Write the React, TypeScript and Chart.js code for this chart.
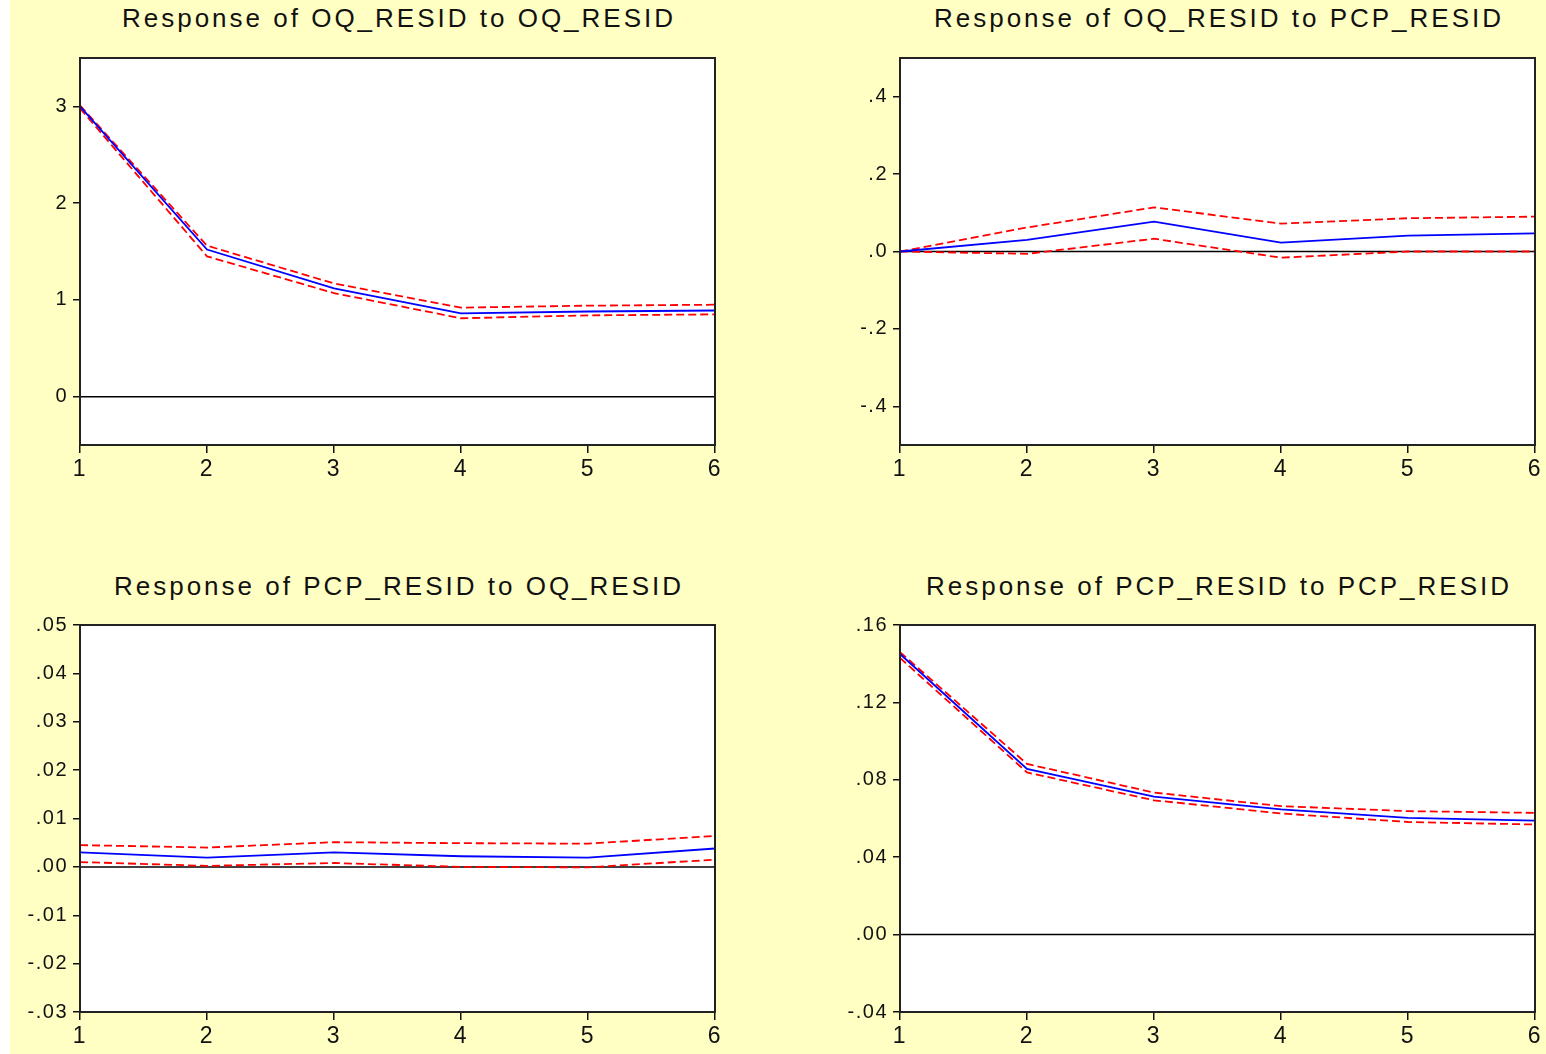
import React, { useEffect, useRef } from 'react';
import { Chart, registerables } from 'chart.js';

Chart.register(...registerables);

// ---- data ----
const periods = ['1', '2', '3', '4', '5', '6'];

const oqOqResp = [3.0, 1.52, 1.12, 0.86, 0.88, 0.89];
const oqOqUpper = [3.01, 1.56, 1.17, 0.92, 0.94, 0.95];
const oqOqLower = [2.98, 1.45, 1.07, 0.81, 0.84, 0.85];

const oqPcpResp = [0.0, 0.03, 0.077, 0.023, 0.041, 0.047];
const oqPcpUpper = [0.0, 0.062, 0.114, 0.072, 0.086, 0.09];
const oqPcpLower = [0.0, -0.006, 0.033, -0.016, 0.0, 0.0];

const pcpOqResp = [0.003, 0.0019, 0.003, 0.0022, 0.0019, 0.0038];
const pcpOqUpper = [0.0045, 0.004, 0.0051, 0.0049, 0.0048, 0.0064];
const pcpOqLower = [0.001, 0.0002, 0.0008, 0.0, -0.0001, 0.0015];

const pcpPcpResp = [0.145, 0.0856, 0.0713, 0.0647, 0.0603, 0.0589];
const pcpPcpUpper = [0.146, 0.0882, 0.0734, 0.0664, 0.0638, 0.0629];
const pcpPcpLower = [0.143, 0.0838, 0.0694, 0.0626, 0.0582, 0.0569];

const zeroLine = [0, 0, 0, 0, 0, 0];

const oqOqTicks = [0, 1, 2, 3];
const oqOqTickLabels = ['0', '1', '2', '3'];
const oqPcpTicks = [-0.4, -0.2, 0, 0.2, 0.4];
const oqPcpTickLabels = ['-.4', '-.2', '.0', '.2', '.4'];
const pcpOqTicks = [-0.03, -0.02, -0.01, 0, 0.01, 0.02, 0.03, 0.04, 0.05];
const pcpOqTickLabels = ['-.03', '-.02', '-.01', '.00', '.01', '.02', '.03', '.04', '.05'];
const pcpPcpTicks = [-0.04, 0, 0.04, 0.08, 0.12, 0.16];
const pcpPcpTickLabels = ['-.04', '.00', '.04', '.08', '.12', '.16'];

const FONT = "'Liberation Sans', Arial, sans-serif";
const PLOT_W = 635;
const PLOT_H = 387;
const Y_AXIS_W = 75;
const X_AXIS_H = 45;
const PAD = 24;

const framePlugin = {
  id: 'eviewsFrame',
  beforeDraw(chart: any) {
    const { ctx, chartArea } = chart;
    ctx.letterSpacing = '1.5px';
    ctx.save();
    ctx.fillStyle = '#ffffff';
    ctx.fillRect(chartArea.left, chartArea.top, chartArea.right - chartArea.left, chartArea.bottom - chartArea.top);
    ctx.restore();
  },
  afterDraw(chart: any) {
    const { ctx, chartArea } = chart;
    ctx.save();
    ctx.strokeStyle = '#222222';
    ctx.lineWidth = 2;
    ctx.strokeRect(chartArea.left, chartArea.top, chartArea.right - chartArea.left, chartArea.bottom - chartArea.top);
    ctx.restore();
  },
};

type PanelProps = {
  title: string;
  resp: number[];
  upper: number[];
  lower: number[];
  yMin: number;
  yMax: number;
  yTicks: number[];
  yTickLabels: string[];
  plotLeft: number;
  plotTop: number;
};

function Panel(p: PanelProps) {
  const ref = useRef<HTMLCanvasElement | null>(null);

  useEffect(() => {
    if (!ref.current) return;
    const chart = new Chart(ref.current, {
      type: 'line',
      data: {
        labels: periods,
        datasets: [
          {
            data: p.resp,
            borderColor: '#0000ff',
            borderWidth: 1.8,
            pointRadius: 0,
            tension: 0,
          },
          {
            data: p.upper,
            borderColor: '#ff0000',
            borderWidth: 1.8,
            borderDash: [8, 4],
            pointRadius: 0,
            tension: 0,
          },
          {
            data: p.lower,
            borderColor: '#ff0000',
            borderWidth: 1.8,
            borderDash: [8, 4],
            pointRadius: 0,
            tension: 0,
          },
          {
            data: zeroLine,
            borderColor: '#000000',
            borderWidth: 1.5,
            pointRadius: 0,
            tension: 0,
          },
        ],
      },
      options: {
        animation: false,
        responsive: false,
        devicePixelRatio: 1,
        layout: { padding: { top: PAD, right: PAD, left: 0, bottom: 0 } },
        plugins: {
          legend: { display: false },
          tooltip: { enabled: false },
          title: { display: false },
        },
        scales: {
          x: {
            type: 'category',
            offset: false,
            border: { display: false },
            grid: {
              display: true,
              drawOnChartArea: false,
              drawTicks: true,
              tickLength: 8,
              color: '#111111',
              lineWidth: 1.5,
              offset: false,
            },
            ticks: {
              color: '#111111',
              font: { family: FONT, size: 23 },
              padding: 3,
              maxRotation: 0,
              autoSkip: false,
            },
            afterFit: (s: any) => {
              s.height = X_AXIS_H;
            },
          },
          y: {
            type: 'linear',
            min: p.yMin,
            max: p.yMax,
            border: { display: false },
            grid: {
              display: true,
              drawOnChartArea: false,
              drawTicks: true,
              tickLength: 7,
              color: '#111111',
              lineWidth: 1.5,
            },
            afterBuildTicks: (s: any) => {
              s.ticks = p.yTicks.map((v) => ({ value: v }));
            },
            ticks: {
              color: '#111111',
              font: { family: FONT, size: 20 },
              padding: 5,
              callback: (_v: any, i: number) => p.yTickLabels[i],
            },
            afterFit: (s: any) => {
              s.width = Y_AXIS_W;
            },
          },
        },
      },
      plugins: [framePlugin],
    } as any);
    return () => chart.destroy();
  }, []);

  const cw = Y_AXIS_W + PLOT_W + PAD;
  const ch = PAD + PLOT_H + X_AXIS_H;
  return (
    <>
      <div
        style={{
          position: 'absolute',
          left: p.plotLeft,
          top: p.plotTop - (p.plotTop < 300 ? 52 : 51),
          width: PLOT_W,
          textAlign: 'center',
          fontFamily: FONT,
          fontSize: 26,
          lineHeight: '24px',
          letterSpacing: '3px',
          paddingLeft: 3,
          boxSizing: 'border-box',
          whiteSpace: 'nowrap',
          color: '#111111',
        }}
      >
        {p.title}
      </div>
      <canvas
        ref={ref}
        width={cw}
        height={ch}
        style={{
          position: 'absolute',
          left: p.plotLeft - Y_AXIS_W,
          top: p.plotTop - PAD,
          width: cw,
          height: ch,
        }}
      />
    </>
  );
}

export default function App() {
  return (
    <div
      style={{
        position: 'absolute',
        left: 0,
        top: 0,
        width: 1546,
        height: 1054,
        background: '#ffffff',
        overflow: 'hidden',
      }}
    >
      <div
        style={{
          position: 'absolute',
          left: 10,
          top: 0,
          width: 1536,
          height: 1054,
          background: '#ffffc4',
        }}
      />
      <Panel
        title="Response of OQ_RESID to OQ_RESID"
        resp={oqOqResp}
        upper={oqOqUpper}
        lower={oqOqLower}
        yMin={-0.5}
        yMax={3.5}
        yTicks={oqOqTicks}
        yTickLabels={oqOqTickLabels}
        plotLeft={80}
        plotTop={58}
      />
      <Panel
        title="Response of OQ_RESID to PCP_RESID"
        resp={oqPcpResp}
        upper={oqPcpUpper}
        lower={oqPcpLower}
        yMin={-0.5}
        yMax={0.5}
        yTicks={oqPcpTicks}
        yTickLabels={oqPcpTickLabels}
        plotLeft={900}
        plotTop={58}
      />
      <Panel
        title="Response of PCP_RESID to OQ_RESID"
        resp={pcpOqResp}
        upper={pcpOqUpper}
        lower={pcpOqLower}
        yMin={-0.03}
        yMax={0.05}
        yTicks={pcpOqTicks}
        yTickLabels={pcpOqTickLabels}
        plotLeft={80}
        plotTop={625}
      />
      <Panel
        title="Response of PCP_RESID to PCP_RESID"
        resp={pcpPcpResp}
        upper={pcpPcpUpper}
        lower={pcpPcpLower}
        yMin={-0.04}
        yMax={0.16}
        yTicks={pcpPcpTicks}
        yTickLabels={pcpPcpTickLabels}
        plotLeft={900}
        plotTop={625}
      />
    </div>
  );
}
